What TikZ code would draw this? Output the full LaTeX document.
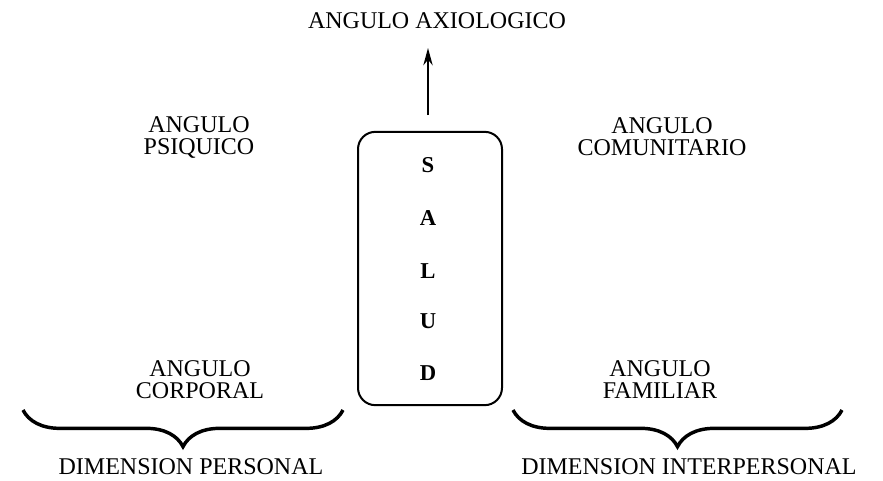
\documentclass[tikz,border=0pt]{standalone}
\usepackage{fontspec}
\setmainfont{Liberation Serif}
\usetikzlibrary{decorations.pathreplacing,arrows.meta}

\begin{document}
\begin{tikzpicture}[x=0.75pt,y=-0.75pt,
  lbl/.style={font=\fontsize{18}{16.5}\selectfont,align=center,inner sep=0pt},
  letra/.style={font=\fontsize{17}{17}\selectfont\bfseries,inner sep=0pt},
  llave/.style={decorate,decoration={brace,amplitude=27.5pt,mirror},line width=2.6pt}]
\useasboundingbox (0,0) rectangle (883,480);
\node[lbl](axio) at (437, 21) {ANGULO AXIOLOGICO};
\node[lbl](psiq) at (199, 137) {ANGULO\\PSIQUICO};
\node[lbl](comu) at (662, 137) {ANGULO\\COMUNITARIO};
\node[lbl](corp) at (200, 380) {ANGULO\\CORPORAL};
\node[lbl](fami) at (660, 380) {ANGULO\\FAMILIAR};
\node[lbl](dper) at (191, 467) {DIMENSION PERSONAL};
\node[lbl](dint) at (689, 467) {DIMENSION INTERPERSONAL};
\node[draw,line width=1.5pt,rounded corners=13pt,minimum width=108pt,minimum height=205pt](salud) at (430, 268.5) {};
\node[letra](s) at (428, 165) {S};
\node[letra](a) at (428, 218) {A};
\node[letra](l) at (428, 271) {L};
\node[letra](u) at (428, 321) {U};
\node[letra](d) at (428, 373) {D};
\coordinate(pie) at (428, 115);
\coordinate(punta) at (428, 48);
\coordinate(ci) at (23, 410);
\coordinate(cd) at (343, 410);
\coordinate(fi) at (513, 410);
\coordinate(fd) at (842, 410);
\draw[line width=1.5pt,-{Stealth[length=13pt,width=7pt]}] (pie) -- (punta);
\draw[llave] (ci) -- (cd);
\draw[llave] (fi) -- (fd);
\end{tikzpicture}
\end{document}
